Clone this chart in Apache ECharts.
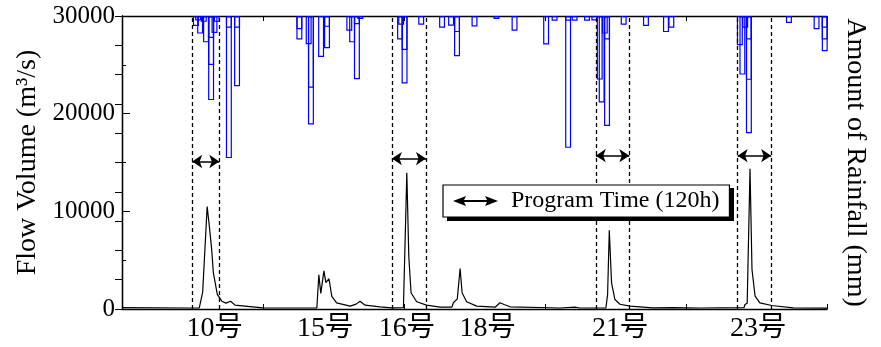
<!DOCTYPE html>
<html>
<head>
<meta charset="utf-8">
<title>Flow Volume and Rainfall</title>
<script src="https://cdn.jsdelivr.net/npm/echarts@6/dist/echarts.min.js"></script>
<style>
  html, body { margin: 0; padding: 0; background: #fff; }
  #chart { width: 881px; height: 347px; }
</style>
</head>
<body>
<div id="chart"></div>
<script>
// hydrograph: hours from start of record, flow in m3/s
const flowHours = [0, 241, 274, 286, 302, 310, 318, 324, 338, 354, 369, 385, 401, 454, 500, 631,
  691, 698, 705, 716, 723, 734, 744, 761, 809, 830, 844, 862, 915, 957,
  998, 1010, 1017, 1025, 1045, 1080, 1128, 1170, 1175, 1189, 1199, 1206, 1222, 1258, 1323,
  1340, 1355, 1376, 1553, 1606, 1624, 1716, 1722, 1728, 1736, 1748, 1766, 1801, 1883,
  1954, 2050, 2206, 2209, 2217, 2227, 2234, 2245, 2262, 2304, 2380, 2500];
const flowVolume = [150, 100, 120, 1700, 10500, 8400, 6100, 3700, 1500, 800, 600, 800, 400, 250, 120, 100,
  100, 3500, 1600, 3900, 2700, 3100, 1300, 630, 290, 500, 800, 390, 220, 120,
  150, 13950, 5400, 1660, 740, 390, 185, 200, 635, 1040, 4150, 1660, 740, 290, 185,
  635, 460, 225, 100, 200, 100, 100, 1500, 8070, 2680, 970, 490, 290, 120,
  150, 100, 150, 460, 600, 14350, 4050, 1310, 635, 360, 120, 80];

// rainfall bars hanging from the top (hours, mm)
const rainHours = [262, 270, 277, 290, 298, 316, 316, 316, 328, 336, 379, 379, 408, 408,
  629, 629, 662, 670, 670, 706, 727, 727, 806, 816, 833, 833, 845,
  986, 990, 1002, 1002, 1061, 1135, 1167, 1188, 1188, 1250, 1328, 1392,
  1504, 1534, 1582, 1582, 1605, 1649, 1675,
  1694, 1701, 1712, 1720, 1720, 1779, 1858, 1929, 1948,
  2191, 2200, 2210, 2223, 2223, 2223, 2365, 2463, 2492, 2492, 2492];
const rainDepth = [3.4, 1.5, 6, 2, 9, 28.7, 16.7, 7.5, 5.8, 2, 48.5, 4, 24, 4,
  8, 4.5, 9.6, 37, 24.5, 14, 11, 3.7, 5, 9, 21.6, 2.8, 1,
  8, 3, 23, 11.6, 3, 4, 3.3, 13.7, 5.5, 3.6, 1, 5,
  9.7, 1.6, 45, 1.6, 1.6, 1.6, 1.5,
  21.7, 29.5, 6, 37.5, 8, 3, 3.4, 5.5, 4,
  10, 20, 4, 40, 21.8, 8, 2.4, 4.5, 12, 8, 4];

// typhoon labels under the x axis
const typhoonNames = ['10号', '15号', '16号', '18号', '21号', '23号'];
const typhoonHours = [328, 720, 1010, 1296, 1766, 2255];

// program time windows (120h)
const windowStart = [249, 957, 1680, 2183];
const windowEnd = [345, 1078, 1799, 2302];
const arrowLevel = [15100, 15400, 15700, 15700];

const serif = "'Liberation Serif', 'Times New Roman', serif";
const serifCjk = "'Liberation Serif', 'Noto Sans CJK JP', serif";

const chart = echarts.init(document.getElementById('chart'));

const dashedLines = [];
windowStart.forEach((s, i) => {
  dashedLines.push({ xAxis: s });
  dashedLines.push({ xAxis: windowEnd[i] });
});

const arrowLines = windowStart.map((s, i) => [
  { coord: [s, arrowLevel[i]] },
  { coord: [windowEnd[i], arrowLevel[i]] }
]);

const option = {
  animation: false,
  backgroundColor: '#fff',
  grid: { left: 122, right: 54, top: 16, bottom: 38 },
  // drop shadow behind the legend box
  graphic: [{
    type: 'rect',
    left: 447,
    top: 188,
    z: 19,
    shape: { width: 287, height: 33 },
    style: { fill: '#000' }
  }],
  legend: {
    data: [{
      name: 'Program Time (120h)',
      icon: 'path://M0,5L13,0L11,4L34,4L32,0L45,5L32,10L34,6L11,6L13,10Z'
    }],
    left: 443,
    top: 185,
    z: 20,
    itemWidth: 45,
    itemHeight: 10,
    padding: [4, 10, 4, 10],
    backgroundColor: '#fff',
    borderColor: '#000',
    borderWidth: 1.2,
    selectedMode: false,
    textStyle: { fontFamily: serif, fontSize: 24, color: '#000', padding: [0, 0, 0, 8] }
  },
  xAxis: [
    {
      type: 'value',
      min: 0,
      max: 2500,
      position: 'bottom',
      axisLine: { lineStyle: { color: '#000', width: 1.3 } },
      axisTick: { inside: true, length: 5, customValues: [0, 500, 1000, 1500, 2000, 2500], lineStyle: { color: '#000' } },
      axisLabel: {
        customValues: typhoonHours,
        formatter: v => typhoonNames[typhoonHours.indexOf(v)] || '',
        fontFamily: serifCjk,
        fontSize: 28,
        color: '#000',
        margin: 6
      },
      splitLine: { show: false }
    },
    {
      type: 'value',
      min: 0,
      max: 2500,
      interval: 500,
      position: 'top',
      axisLine: { lineStyle: { color: '#000', width: 1.3 } },
      axisTick: { inside: true, length: 5, lineStyle: { color: '#000' } },
      axisLabel: { show: false },
      splitLine: { show: false }
    }
  ],
  yAxis: [
    {
      type: 'value',
      min: 0,
      max: 30000,
      interval: 10000,
      name: 'Flow Volume (m³/s)',
      nameLocation: 'middle',
      nameGap: 64,
      nameTextStyle: { fontFamily: serif, fontSize: 28, color: '#000' },
      axisLine: { show: true, lineStyle: { color: '#000', width: 1.3 } },
      axisTick: { inside: true, length: 8, lineStyle: { color: '#000' } },
      minorTick: { show: true, splitNumber: 2, length: 4, lineStyle: { color: '#000' } },
      axisLabel: { fontFamily: serif, fontSize: 25, color: '#000', margin: 7, formatter: v => String(v) },
      splitLine: { show: false }
    },
    {
      type: 'value',
      min: 0,
      max: 100,
      interval: 10,
      inverse: true,
      position: 'right',
      name: 'Amount of Rainfall (mm)',
      nameLocation: 'middle',
      nameRotate: -90,
      nameGap: 14,
      nameTextStyle: { fontFamily: serif, fontSize: 28, color: '#000' },
      axisLine: { show: true, lineStyle: { color: '#000', width: 1.3 } },
      axisTick: { inside: true, length: 7, lineStyle: { color: '#000' } },
      axisLabel: { show: false },
      splitLine: { show: false }
    }
  ],
  series: [
    {
      name: 'Rainfall',
      type: 'bar',
      xAxisIndex: 0,
      yAxisIndex: 1,
      barWidth: 6,
      data: rainHours.map((h, i) => [h, rainDepth[i]]),
      itemStyle: { color: 'rgba(255,255,255,0)', borderColor: '#0000ff', borderWidth: 1.2 },
      z: 2
    },
    {
      name: 'Flow',
      type: 'line',
      xAxisIndex: 0,
      yAxisIndex: 0,
      data: flowHours.map((h, i) => [h, flowVolume[i]]),
      symbol: 'none',
      lineStyle: { color: '#000', width: 1.2 },
      z: 3
    },
    {
      name: 'Windows',
      type: 'line',
      data: [],
      markLine: {
        silent: true,
        symbol: 'none',
        label: { show: false },
        lineStyle: { color: '#000', width: 1.3, type: [4, 3] },
        data: dashedLines
      }
    },
    {
      name: 'Program Time (120h)',
      type: 'line',
      data: [],
      itemStyle: { color: '#000' },
      lineStyle: { color: '#000' },
      markLine: {
        silent: true,
        symbol: ['arrow', 'arrow'],
        symbolSize: 10,
        label: { show: false },
        lineStyle: { color: '#000', width: 1.5, type: 'solid' },
        data: arrowLines
      }
    }
  ]
};

chart.setOption(option);
window.addEventListener('resize', () => chart.resize());
</script>
</body>
</html>
